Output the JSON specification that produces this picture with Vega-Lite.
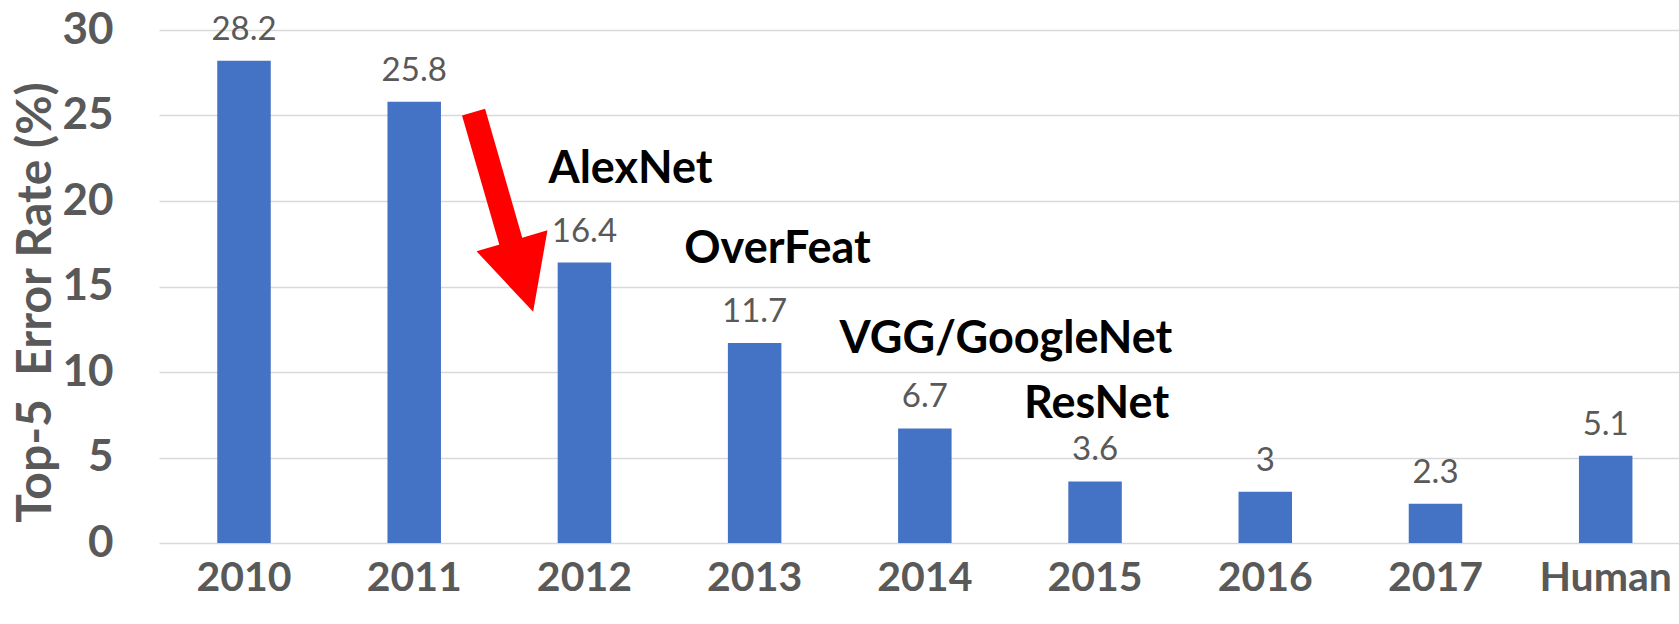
{
  "$schema": "https://vega.github.io/schema/vega-lite/v6.json",
  "width": 1520,
  "height": 513,
  "autosize": {"type": "none"},
  "padding": {"left": 159, "top": 30, "right": 0, "bottom": 81},
  "background": "white",
  "config": {"view": {"stroke": null}, "font": "Lato"},
  "layer": [
    {
      "data": {"values": [
        {"category": "2010", "value": 28.2},
        {"category": "2011", "value": 25.8},
        {"category": "2012", "value": 16.4},
        {"category": "2013", "value": 11.7},
        {"category": "2014", "value": 6.7},
        {"category": "2015", "value": 3.6},
        {"category": "2016", "value": 3},
        {"category": "2017", "value": 2.3},
        {"category": "Human", "value": 5.1}
      ]},
      "encoding": {
        "x": {
          "field": "category", "type": "nominal", "sort": null,
          "scale": {"paddingInner": 0.6857, "paddingOuter": 0.3079, "align": 0.5558, "round": false},
          "axis": {"title": null, "labelFontSize": 41, "labelFont": "Lato", "labelFontWeight": "bold", "labelColor": "#595959", "labelPadding": 15, "ticks": false, "domain": false, "labelAngle": 0, "grid": false}
        },
        "y": {
          "field": "value", "type": "quantitative",
          "scale": {"domain": [0, 30], "nice": false},
          "axis": {"values": [0, 5, 10, 15, 20, 25, 30], "title": "Top-5\u00a0 Error Rate (%)", "titleFontSize": 48, "titleFont": "Lato", "titleFontWeight": "bold", "titleColor": "#595959", "titleX": -99, "titleY": 272, "labelFontSize": 44, "labelFont": "Lato", "labelFontWeight": "bold", "labelColor": "#595959", "labelPadding": 46, "ticks": false, "domain": false, "grid": true, "gridColor": "#d9d9d9", "gridWidth": 1.5}
        }
      },
      "layer": [
        {"mark": {"type": "bar", "color": "#4472C4"}},
        {"mark": {"type": "text", "dy": -21, "baseline": "alphabetic", "fontSize": 33, "font": "Lato", "color": "#595959"},
         "encoding": {"text": {"field": "value", "type": "nominal"}}}
      ]
    },
    {
      "layer": [
        {
          "data": {"values": [{"slot": 1.848, "value": 25.2, "slot2": 2.074, "value2": 17.4}]},
          "mark": {"type": "rule", "color": "#FF0000", "strokeWidth": 24, "strokeCap": "butt"},
          "encoding": {
            "x": {"field": "slot", "type": "quantitative", "scale": {"domain": [0, 8.93], "nice": false, "zero": false}, "axis": null},
            "x2": {"field": "slot2"},
            "y": {"field": "value", "type": "quantitative"},
            "y2": {"field": "value2"}
          }
        },
        {
          "data": {"values": [{"slot": 2.136, "value": 15.6}]},
          "mark": {"type": "point", "shape": "M-1,-1L1,-1L0,1Z", "size": 5476, "angle": -16.6, "filled": true, "color": "#FF0000", "opacity": 1, "strokeWidth": 0},
          "encoding": {
            "x": {"field": "slot", "type": "quantitative", "scale": {"domain": [0, 8.93], "nice": false, "zero": false}, "axis": null},
            "y": {"field": "value", "type": "quantitative"}
          }
        },
        {
          "data": {"values": [
            {"label": "AlexNet", "slot": 2.770, "value": 21.05},
            {"label": "OverFeat", "slot": 3.634, "value": 16.37},
            {"label": "VGG/GoogleNet", "slot": 4.976, "value": 11.11},
            {"label": "ResNet", "slot": 5.508, "value": 7.31}
          ]},
          "mark": {"type": "text", "baseline": "alphabetic", "align": "center", "fontSize": 45, "font": "Lato", "fontWeight": "bold", "color": "#000000"},
          "encoding": {
            "x": {"field": "slot", "type": "quantitative", "scale": {"domain": [0, 8.93], "nice": false, "zero": false}, "axis": null},
            "y": {"field": "value", "type": "quantitative"},
            "text": {"field": "label", "type": "nominal"}
          }
        }
      ]
    }
  ],
  "resolve": {"scale": {"x": "independent"}}
}
